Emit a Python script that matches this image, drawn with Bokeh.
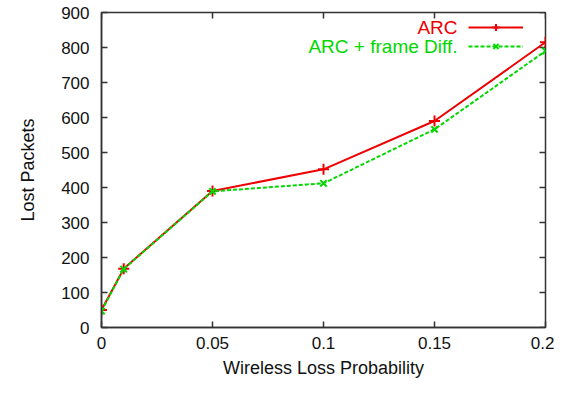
from bokeh.plotting import figure
from bokeh.models import (FixedTicker, Range1d, Legend, LegendItem, Label)
from bokeh.embed import file_html
from bokeh.resources import INLINE
from bokeh.core.properties import value

x_vals = [0, 0.01, 0.05, 0.1, 0.15, 0.2]
arc = [50, 168, 390, 452, 590, 815]
arc_fd = [47, 167, 389, 412, 566, 790]
x_ticks = [0, 0.05, 0.1, 0.15, 0.2]
x_tick_labels = ["0", "0.05", "0.1", "0.15", "0.2"]
y_ticks = [0, 100, 200, 300, 400, 500, 600, 700, 800, 900]
series_names = ["ARC", "ARC + frame Diff."]

RED = "#ee0000"
GREEN = "#00d800"
AXC = "#333333"
FONT = "Liberation Sans"

W, H = 554, 380
BL, BT, BR, BB = 101, 12, 9, 53
FW, FH = W - BL - BR, H - BT - BB
TICK = 6

p = figure(width=W, height=H, output_backend="svg", toolbar_location=None,
           x_range=Range1d(x_ticks[0], x_ticks[-1]), y_range=Range1d(y_ticks[0], y_ticks[-1]),
           min_border_left=BL, min_border_top=BT, min_border_right=BR, min_border_bottom=BB,
           x_axis_label="Wireless Loss Probability", y_axis_label="Lost Packets")
p.grid.visible = False
p.outline_line_color = AXC
p.outline_line_width = 1.5

for ax in (p.xaxis[0], p.yaxis[0]):
    ax.major_tick_in = TICK
    ax.major_tick_out = 0
    ax.minor_tick_in = 0
    ax.minor_tick_out = 0
    ax.axis_line_color = AXC
    ax.axis_line_width = 1.5
    ax.major_tick_line_color = AXC
    ax.major_tick_line_width = 1.5
    ax.major_label_text_font = FONT
    ax.major_label_text_font_size = "17px"
    ax.major_label_text_color = "#111111"
    ax.axis_label_text_font = FONT
    ax.axis_label_text_font_size = "18px"
    ax.axis_label_text_font_style = "normal"
    ax.axis_label_text_color = "#111111"

p.xaxis[0].ticker = FixedTicker(ticks=x_ticks)
p.yaxis[0].ticker = FixedTicker(ticks=y_ticks)
p.xaxis[0].major_label_overrides = dict(zip(x_ticks, x_tick_labels))
p.xaxis[0].major_label_standoff = 9
p.xaxis[0].axis_label_standoff = 6
p.yaxis[0].major_label_standoff = 12
p.yaxis[0].axis_label_standoff = 20

# mirrored inward ticks on top and right edges
y_top = y_ticks[-1]
x_right = x_ticks[-1]
dy = TICK * (y_ticks[-1] - y_ticks[0]) / FH
dx = TICK * (x_ticks[-1] - x_ticks[0]) / FW
p.segment(x0=x_ticks, y0=[y_top] * len(x_ticks), x1=x_ticks, y1=[y_top - dy] * len(x_ticks),
          line_color=AXC, line_width=1.5)
p.segment(x0=[x_right] * len(y_ticks), y0=y_ticks, x1=[x_right - dx] * len(y_ticks), y1=y_ticks,
          line_color=AXC, line_width=1.5)

l1 = p.line(x_vals, arc, line_color=RED, line_width=2)
m1 = p.scatter(x_vals, arc, marker="cross", size=11, line_color=RED, line_width=2)
l2 = p.line(x_vals, arc_fd, line_color=GREEN, line_width=2, line_dash="4 2")
m2 = p.scatter(x_vals, arc_fd, marker="x", size=9, line_color=GREEN, line_width=2)

legend = Legend(items=[LegendItem(label=value(" "), renderers=[l1, m1]),
                       LegendItem(label=value(" "), renderers=[l2, m2])],
                location=(367, 272), background_fill_alpha=0, border_line_color=None,
                glyph_width=55, glyph_height=18, label_width=0, label_standoff=0,
                padding=0, spacing=1, margin=0, label_text_font_size="12px")
p.add_layout(legend)

colors = [RED, GREEN]
for i, name in enumerate(series_names):
    p.add_layout(Label(x=356, y=300 - 19 * i, x_units="screen", y_units="screen",
                       text=name, text_align="right", text_baseline="middle",
                       text_font=FONT, text_font_size="19px", text_color=colors[i]))

open("out.html", "w").write(file_html(p, INLINE))
